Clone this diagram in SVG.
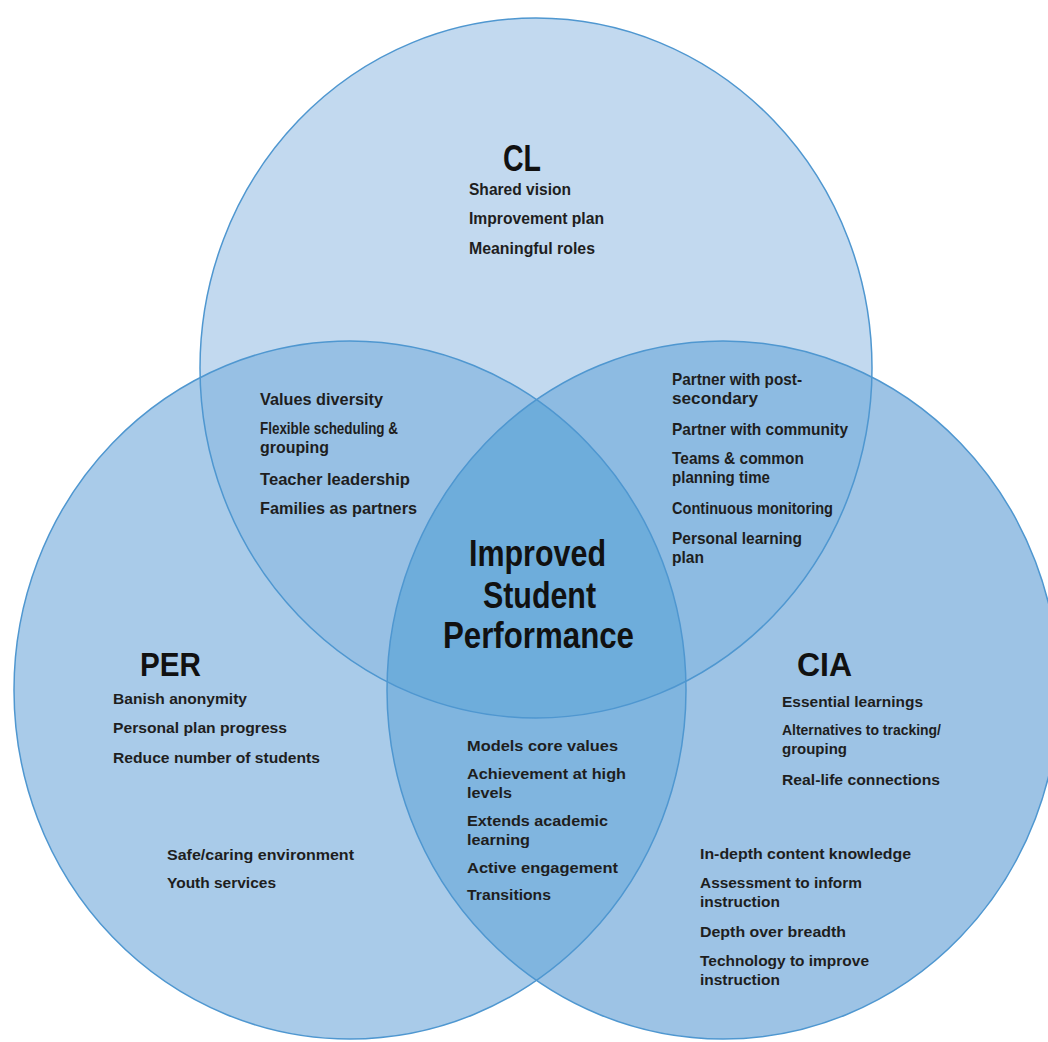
<svg xmlns="http://www.w3.org/2000/svg" width="1048" height="1042" viewBox="0 0 1048 1042">
<defs>
<clipPath id="clipTop"><ellipse cx="536" cy="368" rx="336" ry="350"/></clipPath>
<clipPath id="clipLeft"><ellipse cx="350" cy="690" rx="336" ry="349"/></clipPath>
<clipPath id="clipRight"><ellipse cx="723" cy="690" rx="336" ry="349"/></clipPath>
</defs>
<style>
.edge{fill:none;stroke:#4f97d0;stroke-width:1.5}
.t{font-family:"Liberation Sans",Arial,sans-serif;font-size:15.5px;font-weight:bold;fill:#1e1e1e}
.c{font-family:"Liberation Sans",Arial,sans-serif;font-size:17px;font-weight:bold;fill:#1e1e1e}
.h{font-family:"Liberation Sans",Arial,sans-serif;font-weight:bold;fill:#111}
</style>
<rect width="1048" height="1042" fill="#ffffff"/>
<g id="circle-fills">
<ellipse cx="536" cy="368" rx="336" ry="350" fill="#c2d9ef"/>
<ellipse cx="350" cy="690" rx="336" ry="349" fill="#a9cbe9"/>
<ellipse cx="723" cy="690" rx="336" ry="349" fill="#9dc3e5"/>
<ellipse cx="350" cy="690" rx="336" ry="349" fill="#97c0e4" clip-path="url(#clipTop)"/>
<ellipse cx="723" cy="690" rx="336" ry="349" fill="#8dbbe2" clip-path="url(#clipTop)"/>
<ellipse cx="723" cy="690" rx="336" ry="349" fill="#80b5df" clip-path="url(#clipLeft)"/>
<g clip-path="url(#clipTop)">
<ellipse cx="723" cy="690" rx="336" ry="349" fill="#6eaddb" clip-path="url(#clipLeft)"/>
</g>
</g>
<g id="circle-edges">
<ellipse class="edge" cx="536" cy="368" rx="336" ry="350"/>
<ellipse class="edge" cx="350" cy="690" rx="336" ry="349"/>
<ellipse class="edge" cx="723" cy="690" rx="336" ry="349"/>
</g>
<g id="CL">
<text class="h" x="503" y="171" font-size="37" textLength="38" lengthAdjust="spacingAndGlyphs">CL</text>
<text class="c" x="469" y="195" textLength="102" lengthAdjust="spacingAndGlyphs">Shared vision</text>
<text class="c" x="469" y="224" textLength="135" lengthAdjust="spacingAndGlyphs">Improvement plan</text>
<text class="c" x="469" y="254" textLength="126" lengthAdjust="spacingAndGlyphs">Meaningful roles</text>
</g>
<g id="CL-PER">
<text class="c" x="260" y="405" textLength="123" lengthAdjust="spacingAndGlyphs">Values diversity</text>
<text class="c" x="260" y="434" textLength="138" lengthAdjust="spacingAndGlyphs">Flexible scheduling &amp;</text>
<text class="c" x="260" y="453" textLength="69" lengthAdjust="spacingAndGlyphs">grouping</text>
<text class="c" x="260" y="485" textLength="150" lengthAdjust="spacingAndGlyphs">Teacher leadership</text>
<text class="c" x="260" y="514" textLength="157" lengthAdjust="spacingAndGlyphs">Families as partners</text>
</g>
<g id="CL-CIA">
<text class="c" x="672" y="385" textLength="130" lengthAdjust="spacingAndGlyphs">Partner with post-</text>
<text class="c" x="672" y="404" textLength="86" lengthAdjust="spacingAndGlyphs">secondary</text>
<text class="c" x="672" y="435" textLength="176" lengthAdjust="spacingAndGlyphs">Partner with community</text>
<text class="c" x="672" y="464" textLength="132" lengthAdjust="spacingAndGlyphs">Teams &amp; common</text>
<text class="c" x="672" y="483" textLength="98" lengthAdjust="spacingAndGlyphs">planning time</text>
<text class="c" x="672" y="514" textLength="161" lengthAdjust="spacingAndGlyphs">Continuous monitoring</text>
<text class="c" x="672" y="544" textLength="130" lengthAdjust="spacingAndGlyphs">Personal learning</text>
<text class="c" x="672" y="563" textLength="32" lengthAdjust="spacingAndGlyphs">plan</text>
</g>
<g id="center">
<text class="h" x="469" y="566" font-size="36" textLength="137" lengthAdjust="spacingAndGlyphs">Improved</text>
<text class="h" x="483" y="608" font-size="36" textLength="113" lengthAdjust="spacingAndGlyphs">Student</text>
<text class="h" x="443" y="648" font-size="36" textLength="191" lengthAdjust="spacingAndGlyphs">Performance</text>
</g>
<g id="PER">
<text class="h" x="140" y="676" font-size="34" textLength="61" lengthAdjust="spacingAndGlyphs">PER</text>
<text class="t" x="113" y="704" textLength="134" lengthAdjust="spacingAndGlyphs">Banish anonymity</text>
<text class="t" x="113" y="733" textLength="174" lengthAdjust="spacingAndGlyphs">Personal plan progress</text>
<text class="t" x="113" y="763" textLength="207" lengthAdjust="spacingAndGlyphs">Reduce number of students</text>
<text class="t" x="167" y="860" textLength="187" lengthAdjust="spacingAndGlyphs">Safe/caring environment</text>
<text class="t" x="167" y="888" textLength="109" lengthAdjust="spacingAndGlyphs">Youth services</text>
</g>
<g id="PER-CIA">
<text class="t" x="467" y="751" textLength="151" lengthAdjust="spacingAndGlyphs">Models core values</text>
<text class="t" x="467" y="779" textLength="159" lengthAdjust="spacingAndGlyphs">Achievement at high</text>
<text class="t" x="467" y="798" textLength="45" lengthAdjust="spacingAndGlyphs">levels</text>
<text class="t" x="467" y="826" textLength="141" lengthAdjust="spacingAndGlyphs">Extends academic</text>
<text class="t" x="467" y="845" textLength="63" lengthAdjust="spacingAndGlyphs">learning</text>
<text class="t" x="467" y="873" textLength="151" lengthAdjust="spacingAndGlyphs">Active engagement</text>
<text class="t" x="467" y="900" textLength="84" lengthAdjust="spacingAndGlyphs">Transitions</text>
</g>
<g id="CIA">
<text class="h" x="797" y="676" font-size="34" textLength="55" lengthAdjust="spacingAndGlyphs">CIA</text>
<text class="t" x="782" y="707" textLength="141" lengthAdjust="spacingAndGlyphs">Essential learnings</text>
<text class="t" x="782" y="735" textLength="159" lengthAdjust="spacingAndGlyphs">Alternatives to tracking/</text>
<text class="t" x="782" y="754" textLength="65" lengthAdjust="spacingAndGlyphs">grouping</text>
<text class="t" x="782" y="785" textLength="158" lengthAdjust="spacingAndGlyphs">Real-life connections</text>
<text class="t" x="700" y="859" textLength="211" lengthAdjust="spacingAndGlyphs">In-depth content knowledge</text>
<text class="t" x="700" y="888" textLength="162" lengthAdjust="spacingAndGlyphs">Assessment to inform</text>
<text class="t" x="700" y="907" textLength="80" lengthAdjust="spacingAndGlyphs">instruction</text>
<text class="t" x="700" y="937" textLength="146" lengthAdjust="spacingAndGlyphs">Depth over breadth</text>
<text class="t" x="700" y="966" textLength="169" lengthAdjust="spacingAndGlyphs">Technology to improve</text>
<text class="t" x="700" y="985" textLength="80" lengthAdjust="spacingAndGlyphs">instruction</text>
</g>
</svg>
